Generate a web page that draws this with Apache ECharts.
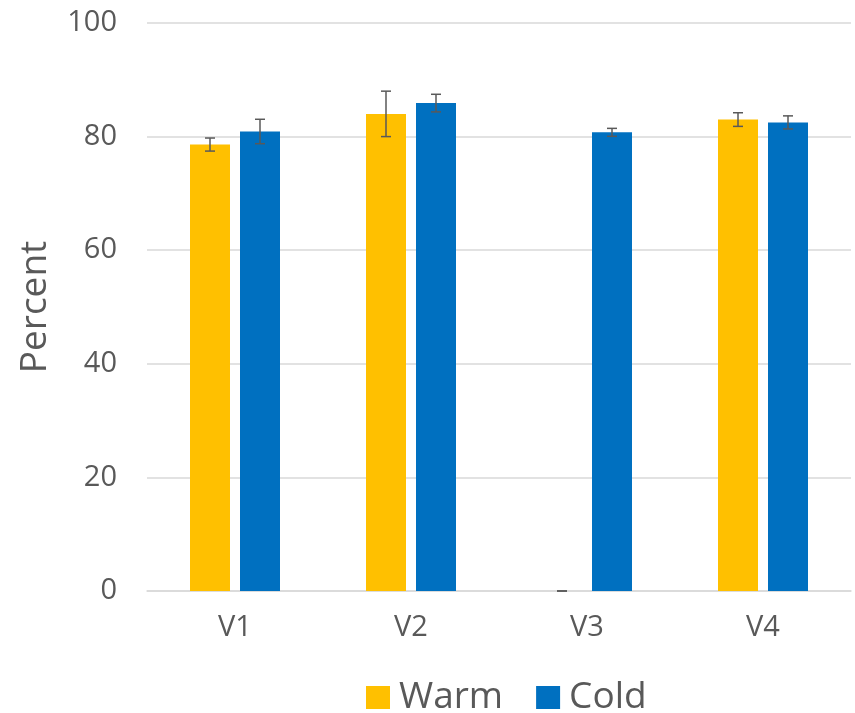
<!DOCTYPE html>
<html>
<head>
<meta charset="utf-8">
<script src="https://cdn.jsdelivr.net/npm/echarts@6/dist/echarts.min.js"></script>
<style>html,body{margin:0;padding:0;background:#fff;}#c{width:855px;height:713px;}</style>
</head>
<body>
<div id="c"></div>
<script>
const categories = ['V1', 'V2', 'V3', 'V4'];
const warmValues = [78.6, 84.0, 0, 83.0];
const warmErrors = [1.15, 4.0, 0, 1.2];
const coldValues = [80.9, 85.9, 80.75, 82.5];
const coldErrors = [2.15, 1.55, 0.7, 1.15];
const yTicks = { min: 0, max: 100, interval: 20 };

const chart = echarts.init(document.getElementById('c'));
const FONT = 'Open Sans';

function errorSeries(name, values, errors, offset) {
  return {
    type: 'custom',
    name: name + ' err',
    z: 10,
    silent: true,
    data: values.map((v, i) => [i, v - errors[i], v + errors[i]]),
    renderItem: function (params, api) {
      const i = api.value(0);
      const lo = api.coord([i, api.value(1)]);
      const hi = api.coord([i, api.value(2)]);
      const x = lo[0] + offset;
      const half = 5;
      const style = { stroke: '#595959', lineWidth: 1.5 };
      return {
        type: 'group',
        children: [
          { type: 'line', shape: { x1: x, y1: lo[1], x2: x, y2: hi[1] }, style: style },
          { type: 'line', shape: { x1: x - half, y1: lo[1], x2: x + half, y2: lo[1] }, style: style },
          { type: 'line', shape: { x1: x - half, y1: hi[1], x2: x + half, y2: hi[1] }, style: style }
        ]
      };
    }
  };
}

chart.setOption({
  animation: false,
  textStyle: { fontFamily: FONT },
  grid: { left: 147, right: 4, top: 23, bottom: 122 },
  legend: {
    data: ['Warm', 'Cold'],
    left: 361,
    top: 674,
    itemWidth: 24,
    itemHeight: 23,
    itemGap: 33,
    icon: 'rect',
    textStyle: { fontSize: 37, color: '#595959', fontFamily: FONT, padding: [0, 0, 0, 4] }
  },
  xAxis: {
    type: 'category',
    data: categories,
    axisLine: { lineStyle: { color: '#d9d9d9', width: 1.5 } },
    axisTick: { show: false },
    axisLabel: { fontSize: 29, color: '#595959', margin: 22, fontFamily: FONT }
  },
  yAxis: {
    type: 'value',
    min: yTicks.min,
    max: yTicks.max,
    interval: yTicks.interval,
    name: 'Percent',
    nameLocation: 'middle',
    nameGap: 93,
    nameTextStyle: { fontSize: 37, color: '#595959', fontFamily: FONT },
    axisLine: { show: false },
    axisTick: { show: false },
    axisLabel: { fontSize: 29, color: '#595959', margin: 30, fontFamily: FONT },
    splitLine: { lineStyle: { color: '#d9d9d9', width: 1.5 } }
  },
  series: [
    { name: 'Warm', type: 'bar', data: warmValues, barWidth: 40, barGap: '25%', itemStyle: { color: '#FFC000' } },
    { name: 'Cold', type: 'bar', data: coldValues, barWidth: 40, barGap: '25%', itemStyle: { color: '#0070C0' } },
    errorSeries('Warm', warmValues, warmErrors, -25),
    errorSeries('Cold', coldValues, coldErrors, 25)
  ]
});
</script>
</body>
</html>
